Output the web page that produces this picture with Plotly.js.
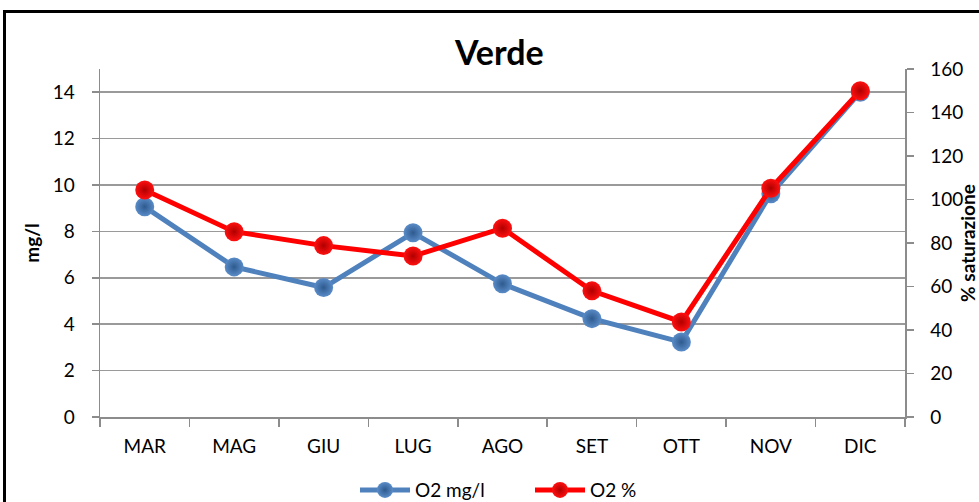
<!DOCTYPE html>
<html>
<head>
<meta charset="utf-8">
<script src="https://cdn.plot.ly/plotly-3.0.1.min.js"></script>
<style>
  html, body { margin: 0; padding: 0; background: #fff; overflow: hidden; }
  #chart { width: 979px; height: 502px; position: absolute; left: 0; top: 0; }
  #frame { position: absolute; left: 3px; top: 10px; width: 1100px; height: 700px;
           border: 3px solid #000; pointer-events: none; box-sizing: border-box; }
</style>
</head>
<body>
<div id="chart"></div>
<div id="frame"></div>
<script>
const months = ["MAR", "MAG", "GIU", "LUG", "AGO", "SET", "OTT", "NOV", "DIC"];
const o2mgl = [9.06, 6.47, 5.58, 7.94, 5.74, 4.24, 3.23, 9.62, 14.0];
const o2pct = [104.4, 85.2, 78.8, 74.0, 86.8, 58.0, 43.7, 105.2, 150.0];
const leftTicks = [0, 2, 4, 6, 8, 10, 12, 14];
const rightTicks = [0, 20, 40, 60, 80, 100, 120, 140, 160];

const FONT = "Lato, Carlito, 'Open Sans', sans-serif";
const axisGrey = "#8c8c8c";

const traces = [
  {
    x: months, y: o2mgl, name: "O2 mg/l", type: "scatter", mode: "lines+markers",
    yaxis: "y",
    line: { color: "#4F81BD", width: 5 },
    marker: { color: "#5A8CC8", size: 19, line: { width: 0 },
              gradient: { type: "radial", color: "#2E5A8E" } }
  },
  {
    x: months, y: o2pct, name: "O2 %", type: "scatter", mode: "lines+markers",
    yaxis: "y2",
    line: { color: "#FF0000", width: 5 },
    marker: { color: "#FF1010", size: 19, line: { width: 0 },
              gradient: { type: "radial", color: "#B00000" } }
  }
];

const layout = {
  width: 979, height: 502,
  margin: { l: 100, r: 74, t: 69, b: 85, autoexpand: false },
  paper_bgcolor: "#ffffff", plot_bgcolor: "#ffffff",
  font: { family: FONT, size: 19, color: "#000" },
  title: { text: "<b>Verde</b>", font: { family: FONT, size: 34, color: "#000" },
           x: 0.496, xref: "paper", y: 1 - 53 / 502, yref: "container", yanchor: "middle" },
  showlegend: true,
  legend: { orientation: "h", x: (355 - 100) / 805, xanchor: "left", y: -0.21, yanchor: "middle",
            font: { family: FONT, size: 19, color: "#000" },
            entrywidth: 110, entrywidthmode: "pixels", itemwidth: 50 },
  xaxis: {
    type: "category", range: [-0.5, 8.5], tickson: "boundaries", ticks: "outside", ticklen: 8, tickwidth: 1.5,
    tickcolor: axisGrey, showline: true, linecolor: axisGrey, linewidth: 1.5,
    showgrid: false, zeroline: false, ticklabelstandoff: 12, automargin: false,
    tickfont: { family: FONT, size: 19, color: "#000" }
  },
  yaxis: {
    range: [0, 15], tickvals: leftTicks, ticktext: leftTicks.map(String),
    ticks: "outside", ticklen: 7, tickwidth: 1.5, tickcolor: axisGrey,
    showline: true, linecolor: axisGrey, linewidth: 1.5,
    showgrid: true, gridcolor: "#9a9a9a", gridwidth: 1.5, zeroline: false,
    ticklabelstandoff: 13, automargin: false,
    tickfont: { family: FONT, size: 19, color: "#000" },
    title: { text: "<b>mg/l</b>", font: { family: FONT, size: 19, color: "#000" }, standoff: 8 }
  },
  yaxis2: {
    range: [0, 160], tickvals: rightTicks, ticktext: rightTicks.map(String),
    overlaying: "y", side: "right",
    ticks: "outside", ticklen: 7, tickwidth: 1.5, tickcolor: axisGrey,
    showline: true, linecolor: axisGrey, linewidth: 1.5,
    showgrid: false, zeroline: false, ticklabelstandoff: 13, automargin: false,
    tickfont: { family: FONT, size: 19, color: "#000" },
    title: { text: "<b>% saturazione</b>", font: { family: FONT, size: 19, color: "#000" }, standoff: 6 }
  }
};

Plotly.newPlot("chart", traces, layout, { staticPlot: true, displayModeBar: false });
</script>
</body>
</html>
